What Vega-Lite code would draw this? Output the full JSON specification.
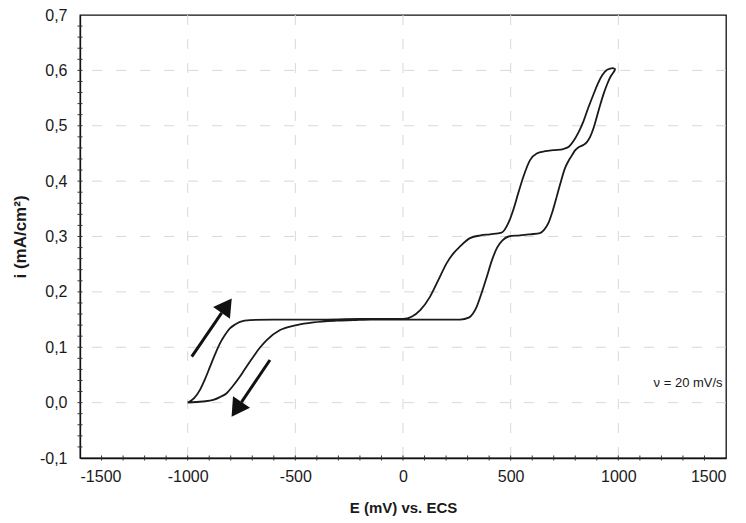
{
  "$schema": "https://vega.github.io/schema/vega-lite/v6.json",
  "width": 646,
  "height": 443,
  "autosize": "none",
  "padding": {"left": 80, "top": 15, "right": 20, "bottom": 65},
  "background": "white",
  "config": {
    "font": "Liberation Sans",
    "view": {"stroke": "#111", "strokeWidth": 1.3},
    "axis": {
      "domainColor": "#111",
      "domainWidth": 1.3,
      "ticks": false,
      "labelFont": "Liberation Sans",
      "labelColor": "#1a1a1a",
      "titleFont": "Liberation Sans",
      "titleFontWeight": "bold",
      "titleColor": "#1a1a1a",
      "grid": false
    }
  },
  "datasets": {
    "cv": [
      {"k": 1, "E": -1000, "i": 0.0},
      {"k": 2, "E": -970, "i": 0.008},
      {"k": 3, "E": -943, "i": 0.023},
      {"k": 4, "E": -920, "i": 0.042},
      {"k": 5, "E": -896, "i": 0.065},
      {"k": 6, "E": -873, "i": 0.087},
      {"k": 7, "E": -850, "i": 0.107},
      {"k": 8, "E": -827, "i": 0.122},
      {"k": 9, "E": -804, "i": 0.134},
      {"k": 10, "E": -780, "i": 0.141},
      {"k": 11, "E": -757, "i": 0.146},
      {"k": 12, "E": -711, "i": 0.149},
      {"k": 13, "E": -600, "i": 0.150},
      {"k": 14, "E": -400, "i": 0.150},
      {"k": 15, "E": -200, "i": 0.151},
      {"k": 16, "E": 0, "i": 0.151},
      {"k": 17, "E": 40, "i": 0.155},
      {"k": 18, "E": 80, "i": 0.167},
      {"k": 19, "E": 125, "i": 0.191},
      {"k": 20, "E": 165, "i": 0.222},
      {"k": 21, "E": 203, "i": 0.252},
      {"k": 22, "E": 235, "i": 0.270},
      {"k": 23, "E": 265, "i": 0.282},
      {"k": 24, "E": 311, "i": 0.297},
      {"k": 25, "E": 360, "i": 0.302},
      {"k": 26, "E": 404, "i": 0.304},
      {"k": 27, "E": 458, "i": 0.307},
      {"k": 28, "E": 490, "i": 0.325},
      {"k": 29, "E": 512, "i": 0.348},
      {"k": 30, "E": 535, "i": 0.378},
      {"k": 31, "E": 559, "i": 0.408},
      {"k": 32, "E": 590, "i": 0.438},
      {"k": 33, "E": 621, "i": 0.450},
      {"k": 34, "E": 660, "i": 0.454},
      {"k": 35, "E": 699, "i": 0.456},
      {"k": 36, "E": 745, "i": 0.458},
      {"k": 37, "E": 770, "i": 0.462},
      {"k": 38, "E": 791, "i": 0.472},
      {"k": 39, "E": 815, "i": 0.488},
      {"k": 40, "E": 838, "i": 0.508},
      {"k": 41, "E": 860, "i": 0.532},
      {"k": 42, "E": 884, "i": 0.556},
      {"k": 43, "E": 905, "i": 0.576},
      {"k": 44, "E": 925, "i": 0.591},
      {"k": 45, "E": 948, "i": 0.601},
      {"k": 46, "E": 975, "i": 0.604},
      {"k": 47, "E": 988, "i": 0.602},
      {"k": 48, "E": 977, "i": 0.596},
      {"k": 49, "E": 963, "i": 0.588},
      {"k": 50, "E": 948, "i": 0.575},
      {"k": 51, "E": 932, "i": 0.558},
      {"k": 52, "E": 916, "i": 0.538},
      {"k": 53, "E": 900, "i": 0.516},
      {"k": 54, "E": 885, "i": 0.496},
      {"k": 55, "E": 869, "i": 0.480},
      {"k": 56, "E": 853, "i": 0.470},
      {"k": 57, "E": 836, "i": 0.465},
      {"k": 58, "E": 815, "i": 0.461},
      {"k": 59, "E": 798, "i": 0.455},
      {"k": 60, "E": 784, "i": 0.446},
      {"k": 61, "E": 768, "i": 0.436},
      {"k": 62, "E": 752, "i": 0.423},
      {"k": 63, "E": 733, "i": 0.399},
      {"k": 64, "E": 714, "i": 0.372},
      {"k": 65, "E": 695, "i": 0.346},
      {"k": 66, "E": 675, "i": 0.324},
      {"k": 67, "E": 655, "i": 0.312},
      {"k": 68, "E": 636, "i": 0.306},
      {"k": 69, "E": 590, "i": 0.304},
      {"k": 70, "E": 543, "i": 0.302},
      {"k": 71, "E": 490, "i": 0.300},
      {"k": 72, "E": 462, "i": 0.293},
      {"k": 73, "E": 437, "i": 0.280},
      {"k": 74, "E": 412, "i": 0.256},
      {"k": 75, "E": 389, "i": 0.227},
      {"k": 76, "E": 365, "i": 0.198},
      {"k": 77, "E": 342, "i": 0.173},
      {"k": 78, "E": 325, "i": 0.161},
      {"k": 79, "E": 308, "i": 0.154},
      {"k": 80, "E": 265, "i": 0.150},
      {"k": 81, "E": 150, "i": 0.150},
      {"k": 82, "E": 0, "i": 0.150},
      {"k": 83, "E": -150, "i": 0.150},
      {"k": 84, "E": -230, "i": 0.149},
      {"k": 85, "E": -308, "i": 0.148},
      {"k": 86, "E": -416, "i": 0.145},
      {"k": 87, "E": -494, "i": 0.140},
      {"k": 88, "E": -571, "i": 0.131},
      {"k": 89, "E": -633, "i": 0.113},
      {"k": 90, "E": -665, "i": 0.099},
      {"k": 91, "E": -695, "i": 0.083},
      {"k": 92, "E": -727, "i": 0.065},
      {"k": 93, "E": -757, "i": 0.047},
      {"k": 94, "E": -790, "i": 0.030},
      {"k": 95, "E": -819, "i": 0.017},
      {"k": 96, "E": -850, "i": 0.010},
      {"k": 97, "E": -881, "i": 0.005},
      {"k": 98, "E": -930, "i": 0.002},
      {"k": 99, "E": -1000, "i": 0.0}
    ],
    "xminor": [
      {"E": -1400}, {"E": -1300}, {"E": -1200}, {"E": -1100}, {"E": -1000}, {"E": -900}, {"E": -800}, {"E": -700}, {"E": -600}, {"E": -500},
      {"E": -400}, {"E": -300}, {"E": -200}, {"E": -100}, {"E": 0}, {"E": 100}, {"E": 200}, {"E": 300}, {"E": 400}, {"E": 500},
      {"E": 600}, {"E": 700}, {"E": 800}, {"E": 900}, {"E": 1000}, {"E": 1100}, {"E": 1200}, {"E": 1300}, {"E": 1400}
    ],
    "yminor": [
      {"i": -0.08}, {"i": -0.06}, {"i": -0.04}, {"i": -0.02}, {"i": 0}, {"i": 0.02}, {"i": 0.04}, {"i": 0.06}, {"i": 0.08}, {"i": 0.1},
      {"i": 0.12}, {"i": 0.14}, {"i": 0.16}, {"i": 0.18}, {"i": 0.2}, {"i": 0.22}, {"i": 0.24}, {"i": 0.26}, {"i": 0.28}, {"i": 0.3},
      {"i": 0.32}, {"i": 0.34}, {"i": 0.36}, {"i": 0.38}, {"i": 0.4}, {"i": 0.42}, {"i": 0.44}, {"i": 0.46}, {"i": 0.48}, {"i": 0.5},
      {"i": 0.52}, {"i": 0.54}, {"i": 0.56}, {"i": 0.58}, {"i": 0.6}, {"i": 0.62}, {"i": 0.64}, {"i": 0.66}, {"i": 0.68}
    ]
  },
  "layer": [
    {
      "data": {"values": [{"g": 0}, {"g": 0.1}, {"g": 0.2}, {"g": 0.3}, {"g": 0.4}, {"g": 0.5}, {"g": 0.6}]},
      "mark": {"type": "rule", "color": "#d8d8d8", "strokeWidth": 1, "strokeDash": [10, 14]},
      "encoding": {"y": {"field": "g", "type": "quantitative"}}
    },
    {
      "data": {"values": [{"g": -1000}, {"g": -500}, {"g": 0}, {"g": 500}, {"g": 1000}]},
      "mark": {"type": "rule", "color": "#d8d8d8", "strokeWidth": 1, "strokeDash": [10, 14]},
      "encoding": {"x": {"field": "g", "type": "quantitative"}}
    },
    {
      "data": {"name": "cv"},
      "mark": {"type": "line", "color": "#1a1a1a", "strokeWidth": 1.8, "interpolate": "monotone"},
      "encoding": {
        "x": {
          "field": "E", "type": "quantitative",
          "scale": {"domain": [-1500, 1500], "nice": false},
          "axis": {
            "values": [-1500, -1000, -500, 0, 500, 1000, 1500],
            "labelExpr": "replace(format(datum.value, 'd'), '−', '-')",
            "labelFontSize": 16,
            "title": "E (mV) vs. ECS",
            "titleFontSize": 15,
            "labelPadding": 10,
            "titlePadding": 16
          }
        },
        "y": {
          "field": "i", "type": "quantitative",
          "scale": {"domain": [-0.1, 0.7], "nice": false, "zero": false},
          "axis": {
            "values": [-0.1, 0, 0.1, 0.2, 0.3, 0.4, 0.5, 0.6, 0.7],
            "labelExpr": "replace(replace(format(datum.value, '.1f'), '.', ','), '−', '-')",
            "labelFontSize": 16,
            "title": "i (mA/cm²)",
            "titleFontSize": 17,
            "labelPadding": 13,
            "titlePadding": 10
          }
        },
        "order": {"field": "k", "type": "quantitative"}
      }
    },
    {
      "data": {"name": "xminor"},
      "mark": {"type": "tick", "orient": "vertical", "size": 5, "thickness": 1, "color": "#333", "opacity": 1},
      "encoding": {
        "x": {"field": "E", "type": "quantitative"},
        "y": {"datum": -0.1, "type": "quantitative"}
      }
    },
    {
      "data": {"name": "yminor"},
      "mark": {"type": "tick", "orient": "horizontal", "size": 5, "thickness": 1, "color": "#333", "opacity": 1},
      "encoding": {
        "x": {"datum": -1500, "type": "quantitative"},
        "y": {"field": "i", "type": "quantitative"}
      }
    },
    {
      "data": {"values": [{"E": -981, "i": 0.083, "E2": -842, "i2": 0.162}, {"E": -618, "i": 0.077, "E2": -750, "i2": 0.001}]},
      "mark": {"type": "rule", "color": "#111", "strokeWidth": 3},
      "encoding": {
        "x": {"field": "E", "type": "quantitative"},
        "y": {"field": "i", "type": "quantitative"},
        "x2": {"field": "E2"},
        "y2": {"field": "i2"}
      }
    },
    {
      "data": {"values": [{"E": -819, "i": 0.175}]},
      "mark": {"type": "point", "shape": "triangle-up", "filled": true, "color": "#111", "opacity": 1, "size": 420, "angle": 35},
      "encoding": {
        "x": {"field": "E", "type": "quantitative"},
        "y": {"field": "i", "type": "quantitative"}
      }
    },
    {
      "data": {"values": [{"E": -773, "i": -0.012}]},
      "mark": {"type": "point", "shape": "triangle-up", "filled": true, "color": "#111", "opacity": 1, "size": 420, "angle": 214},
      "encoding": {
        "x": {"field": "E", "type": "quantitative"},
        "y": {"field": "i", "type": "quantitative"}
      }
    },
    {
      "data": {"values": [{"E": 1324, "i": 0.035, "label": "ν = 20 mV/s"}]},
      "mark": {"type": "text", "font": "Liberation Sans", "fontSize": 13, "color": "#1a1a1a", "align": "center", "baseline": "middle"},
      "encoding": {
        "x": {"field": "E", "type": "quantitative"},
        "y": {"field": "i", "type": "quantitative"},
        "text": {"field": "label"}
      }
    }
  ]
}
